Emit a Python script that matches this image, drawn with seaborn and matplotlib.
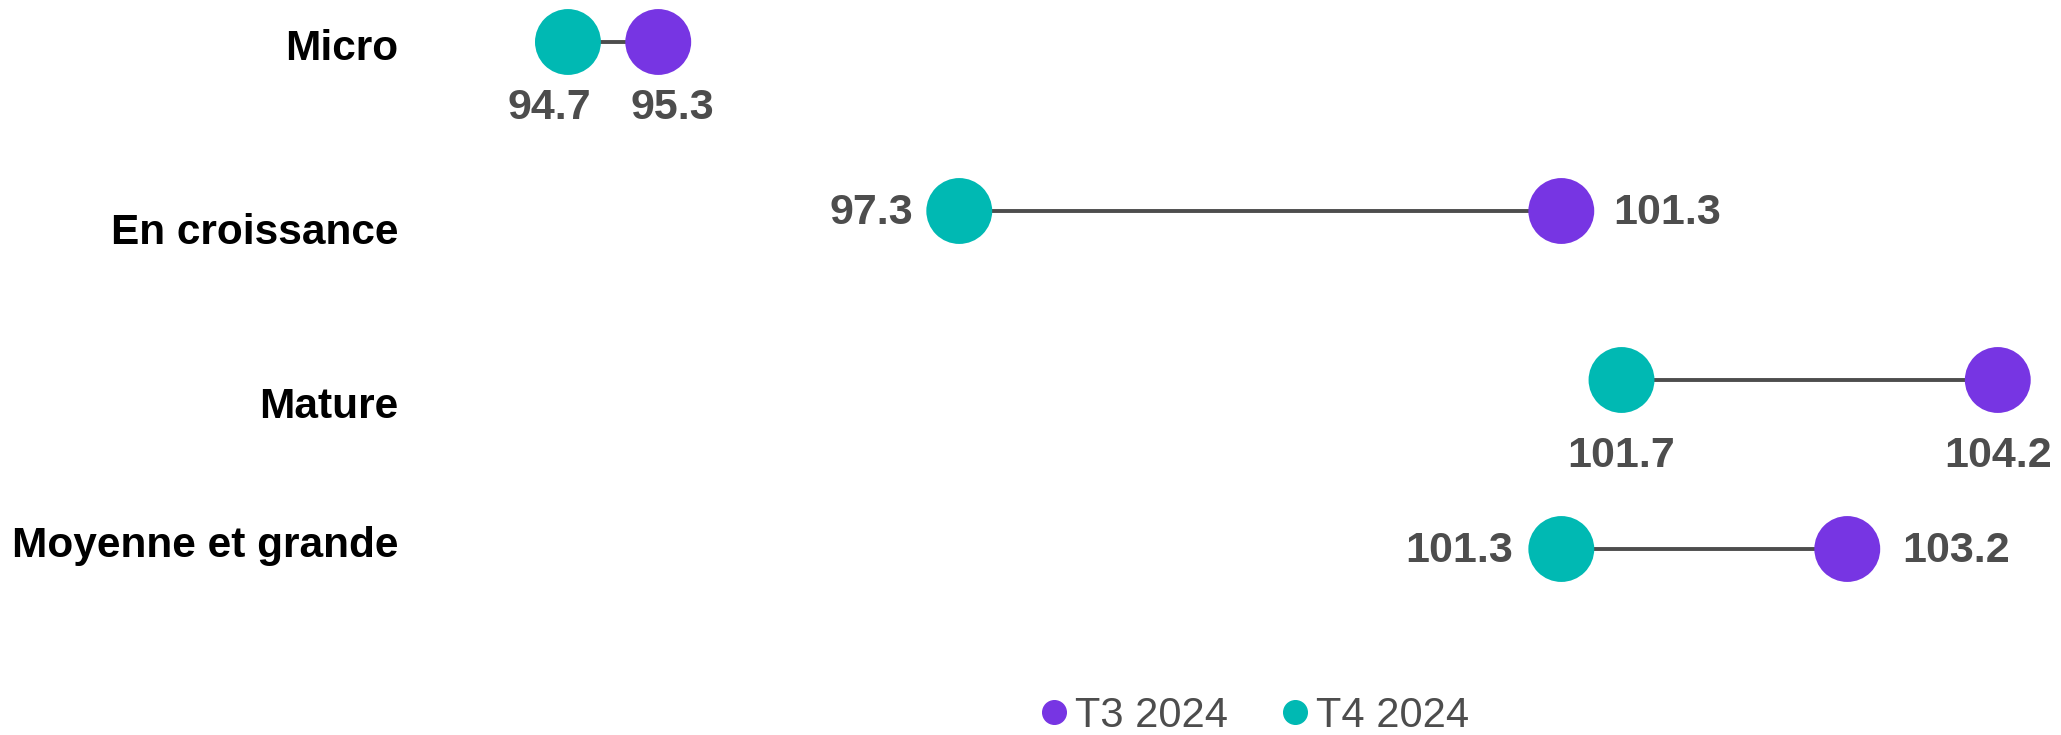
import pandas as pd
import numpy as np
import matplotlib
matplotlib.use('Agg')
import matplotlib.pyplot as plt
from matplotlib.lines import Line2D
from matplotlib.transforms import ScaledTranslation
import seaborn as sns

categories = ['Micro', 'En croissance', 'Mature', 'Moyenne et grande']
t3_2024 = [95.3, 101.3, 104.2, 103.2]
t4_2024 = [94.7, 97.3, 101.7, 101.3]

purple = '#7735E3'
teal = '#00B9B3'
grey = '#4D4D4D'

sns.set_style('white')
plt.rcParams['font.family'] = ['Liberation Sans', 'DejaVu Sans']

df = pd.DataFrame({
    'cat': categories * 2,
    'pos': list(range(len(categories))) * 2,
    'val': t3_2024 + t4_2024,
    'periode': ['T3 2024'] * 4 + ['T4 2024'] * 4,
})

fig = plt.figure(figsize=(20.61, 7.35), dpi=100)
ax = fig.add_axes([440 / 2061, 1 - 660 / 735, 1 - 440 / 2061, 660 / 735])

# lignes de liaison
for i in range(len(categories)):
    ax.plot([t4_2024[i], t3_2024[i]], [i, i], color=grey, lw=2.8, zorder=1)

sns.scatterplot(data=df, x='val', y='pos', hue='periode',
                palette={'T3 2024': purple, 'T4 2024': teal},
                s=2250, edgecolor='none', legend=False, ax=ax, zorder=2)

# étiquettes de valeurs : (dx, dy) en pixels, alignement
offsets = {
    0: [((14, -66), 'center'), ((-19, -66), 'center')],
    1: [((52, -2), 'left'), ((-46, -2), 'right')],
    2: [((0, -76), 'center'), ((0, -76), 'center')],
    3: [((55, -2), 'left'), ((-48, -2), 'right')],
}
for i in range(len(categories)):
    for j, v in enumerate([t3_2024[i], t4_2024[i]]):
        (dx, dy), ha = offsets[i][j]
        ax.annotate('{:.1f}'.format(v), (v, i), xytext=(dx * 0.72, dy * 0.72),
                    textcoords='offset points', ha=ha, va='center',
                    fontsize=31, fontweight='bold', color=grey)

ax.set_xlim(93.85, 104.62)
ax.set_ylim((660 - 42) / 169, -42 / 169)
ax.set_yticks(range(len(categories)))
ax.set_yticklabels(categories, fontsize=30.5, fontweight='bold', color='black')
ax.tick_params(axis='y', length=0, pad=30)

# décalage vertical des libellés (px)
label_shift = [-3, -17, -22, 7]
for lab, d in zip(ax.get_yticklabels(), label_shift):
    lab.set_transform(lab.get_transform() + ScaledTranslation(0, d / 100, fig.dpi_scale_trans))

ax.set_xticks([])
ax.set_xlabel('')
ax.set_ylabel('')
sns.despine(ax=ax, left=True, bottom=True)

handles = [Line2D([], [], marker='o', ls='none', color=purple, markersize=17),
           Line2D([], [], marker='o', ls='none', color=teal, markersize=17)]
fig.legend(handles, ['T3 2024', 'T4 2024'], loc='center', bbox_to_anchor=(0.608, 1 - 716 / 735),
           ncol=2, frameon=False, fontsize=30, labelcolor=grey,
           handletextpad=0.1, columnspacing=1.2, handlelength=0.8)

fig.savefig('out.png', dpi=100)
